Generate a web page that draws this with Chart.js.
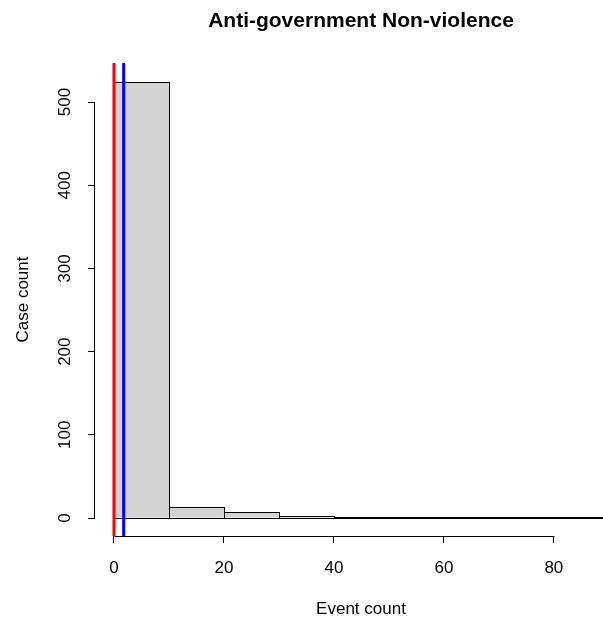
<!DOCTYPE html>
<html>
<head>
<meta charset="utf-8">
<script src="https://cdn.jsdelivr.net/npm/chart.js@4.4.1/dist/chart.umd.min.js"></script>
<style>
  html, body { margin: 0; padding: 0; background: #fff; overflow: hidden; }
  #wrap { width: 603px; height: 620px; overflow: hidden; }
</style>
</head>
<body>
<div id="wrap"><canvas id="histChart" width="722" height="620"></canvas></div>
<script>
// histogram bins (width 10) and counts
const binStarts = [0, 10, 20, 30, 40, 50, 60, 70, 80, 90];
const binWidth = 10;
const caseCounts = [524, 13, 7, 2, 1, 1, 1, 1, 1, 1];

// reference lines: median (red) and mean (blue)
const medianValue = 0;
const meanValue = 1.76;

const xTicks = [0, 20, 40, 60, 80];
const yTicks = [0, 100, 200, 300, 400, 500];
const xLimits = [-3.45, 93.3];
const yLimits = [-21.6, 547];

const FONT = '"Liberation Sans", Arial, sans-serif';
const BAR_INDEX = 2;

// R draws the axis line only between the first and last tick
const axisLines = {
    id: 'axisLines',
    afterDraw(chart) {
        const { ctx, chartArea } = chart;
        const x = chart.scales.x;
        const y = chart.scales.y;
        ctx.save();
        ctx.strokeStyle = '#000';
        ctx.lineWidth = 1;
        ctx.beginPath();
        const by = Math.round(chartArea.bottom) + 0.5;
        ctx.moveTo(Math.round(x.getPixelForValue(xTicks[0])) + 0.5, by);
        ctx.lineTo(Math.round(x.getPixelForValue(xTicks[xTicks.length - 1])) + 0.5, by);
        const lx = Math.round(chartArea.left) - 0.5;
        ctx.moveTo(lx, Math.round(y.getPixelForValue(yTicks[0])) + 0.5);
        ctx.lineTo(lx, Math.round(y.getPixelForValue(yTicks[yTicks.length - 1])) + 0.5);
        ctx.stroke();
        ctx.restore();
    }
};

// outline the histogram rectangles like R's rect(): centred stroke, even for tiny bars
const barOutlines = {
    id: 'barOutlines',
    afterDatasetDraw(chart, args) {
        if (args.index !== BAR_INDEX) return;
        const ctx = chart.ctx;
        ctx.save();
        ctx.strokeStyle = '#000';
        ctx.lineWidth = 1;
        args.meta.data.forEach(bar => {
            const { x, y, base, width } = bar.getProps(['x', 'y', 'base', 'width'], true);
            const l = Math.round(x - width / 2) + 0.5;
            const r = Math.round(x + width / 2) + 0.5;
            const t = Math.round(y) + 0.5;
            const b = Math.round(base) + 0.5;
            ctx.strokeRect(l, t, r - l, b - t);
        });
        ctx.restore();
    }
};

const ctx = document.getElementById('histChart').getContext('2d');

new Chart(ctx, {
    type: 'bar',
    data: {
        datasets: [
            {
                type: 'line',
                data: [{ x: medianValue, y: yLimits[0] }, { x: medianValue, y: yLimits[1] }],
                borderColor: '#FF0000',
                borderWidth: 3,
                pointRadius: 0,
                fill: false
            },
            {
                type: 'line',
                data: [{ x: meanValue, y: yLimits[0] }, { x: meanValue, y: yLimits[1] }],
                borderColor: '#0000FF',
                borderWidth: 3,
                pointRadius: 0,
                fill: false
            },
            {
                data: binStarts.map((b, i) => ({ x: b + binWidth / 2, y: caseCounts[i] })),
                backgroundColor: '#D3D3D3',
                borderWidth: 0,
                barPercentage: 1,
                categoryPercentage: 1,
                inflateAmount: 0
            }
        ]
    },
    options: {
        responsive: false,
        animation: false,
        events: [],
        layout: { padding: { left: 0, right: 95, top: 0, bottom: 0 } },
        plugins: {
            legend: { display: false },
            tooltip: { enabled: false },
            title: {
                display: true,
                fullSize: false,
                text: 'Anti-government Non-violence',
                color: '#000',
                font: { family: FONT, size: 21, weight: 'bold' },
                padding: { top: 8.4, bottom: 29.4 }
            }
        },
        scales: {
            x: {
                type: 'linear',
                min: xLimits[0],
                max: xLimits[1],
                offset: false,
                afterBuildTicks: s => { s.ticks = xTicks.map(v => ({ value: v })); },
                afterFit: s => { s.height = 84; },
                ticks: {
                    color: '#000',
                    font: { family: FONT, size: 17 },
                    maxRotation: 0,
                    autoSkip: false,
                    padding: 15
                },
                grid: {
                    offset: false,
                    drawOnChartArea: false,
                    drawTicks: true,
                    tickLength: 7,
                    color: '#000'
                },
                border: { display: false },
                title: {
                    display: true,
                    text: 'Event count',
                    color: '#000',
                    font: { family: FONT, size: 17 },
                    padding: { top: 0, bottom: 0 }
                }
            },
            y: {
                type: 'linear',
                min: yLimits[0],
                max: yLimits[1],
                afterBuildTicks: s => { s.ticks = yTicks.map(v => ({ value: v })); },
                afterFit: s => { s.width = 95; },
                ticks: {
                    color: '#000',
                    font: { family: FONT, size: 17 },
                    minRotation: 90,
                    maxRotation: 90,
                    crossAlign: 'center',
                    autoSkip: false,
                    padding: 9
                },
                grid: {
                    drawOnChartArea: false,
                    drawTicks: true,
                    tickLength: 7,
                    color: '#000'
                },
                border: { display: false },
                title: {
                    display: true,
                    text: 'Case count',
                    color: '#000',
                    font: { family: FONT, size: 17 },
                    padding: { top: 13, bottom: 0 }
                }
            }
        }
    },
    plugins: [axisLines, barOutlines]
});
</script>
</body>
</html>
